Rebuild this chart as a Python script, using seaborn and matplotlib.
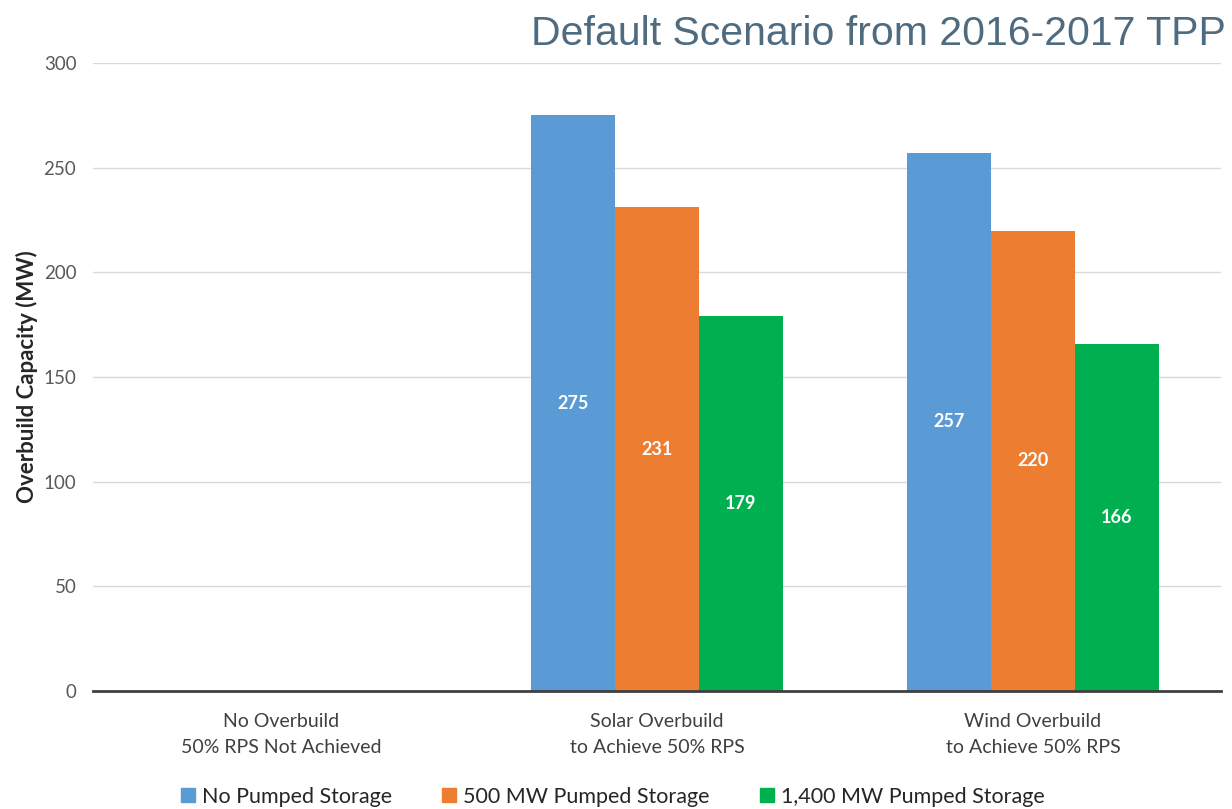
import matplotlib
matplotlib.use("Agg")
import matplotlib.pyplot as plt
import seaborn as sns
import pandas as pd
import numpy as np

categories = ["No Overbuild\n50% RPS Not Achieved",
              "Solar Overbuild\nto Achieve 50% RPS",
              "Wind Overbuild\nto Achieve 50% RPS"]
series = ["No Pumped Storage", "500 MW Pumped Storage", "1,400 MW Pumped Storage"]
no_pumped = [np.nan, 275, 257]
mw500 = [np.nan, 231, 220]
mw1400 = [np.nan, 179, 166]
colors = ["#5B9BD5", "#ED7D31", "#00B050"]
yticks = [0, 50, 100, 150, 200, 250, 300]

rows = []
for s, vals in zip(series, [no_pumped, mw500, mw1400]):
    for c, v in zip(categories, vals):
        rows.append({"cat": c, "series": s, "value": v})
df = pd.DataFrame(rows)

sns.set_theme(style="white")
plt.rcParams['font.family'] = ['Lato', 'DejaVu Sans']

fig = plt.figure(figsize=(12.32, 8.09), dpi=100)
ax = fig.add_axes([0.0755, 0.146, 0.9155, 0.776])

sns.barplot(data=df, x="cat", y="value", hue="series", order=categories,
            hue_order=series, palette=colors, width=0.67, saturation=1,
            errorbar=None, ax=ax, legend=True, linewidth=0)

ax.set_ylim(0, 300)
ax.set_xlim(-0.5, 2.5)
ax.set_yticks(yticks)
ax.set_yticklabels([str(t) for t in yticks], color="#595959", fontsize=13.5)
ax.tick_params(axis="y", length=0, pad=12)
ax.tick_params(axis="x", length=0, pad=16, labelcolor="#404040")
for lbl in ax.get_xticklabels():
    lbl.set_fontsize(14)
    lbl.set_linespacing(1.6)
ax.grid(axis="y", color="#d9d9d9", linewidth=1)
ax.set_axisbelow(True)
for sp in ["top", "right", "left"]:
    ax.spines[sp].set_visible(False)
ax.spines["bottom"].set_color("#404040")
ax.spines["bottom"].set_linewidth(2)
ax.set_xlabel("")
ax.set_ylabel("Overbuild Capacity (MW)", fontsize=16, fontweight="bold",
              color="#262626", labelpad=4)

for cont in ax.containers:
    for bar in cont:
        h = bar.get_height()
        if np.isfinite(h) and h > 0:
            ax.text(bar.get_x() + bar.get_width() / 2, h / 2, f"{int(round(h))}",
                    ha="center", va="center", color="white", fontsize=13,
                    fontweight="bold")

ax.get_legend().remove()
handles = [plt.Line2D([], [], marker="s", linestyle="", markersize=10,
                      markerfacecolor=c, markeredgecolor=c) for c in colors]
fig.legend(handles, series, loc="center left", bbox_to_anchor=(0.1307, 0.015),
           ncol=3, frameon=False, fontsize=15.5, handlelength=0.7,
           handletextpad=0.3, columnspacing=2.3, labelcolor="#262626")

fig.text(0.995, 0.958, "Default Scenario from 2016-2017 TPP", ha="right",
         va="center", fontsize=29.5, color="#4E6B80",
         family=["Liberation Sans", "DejaVu Sans"])

fig.savefig("out.png", dpi=100)
